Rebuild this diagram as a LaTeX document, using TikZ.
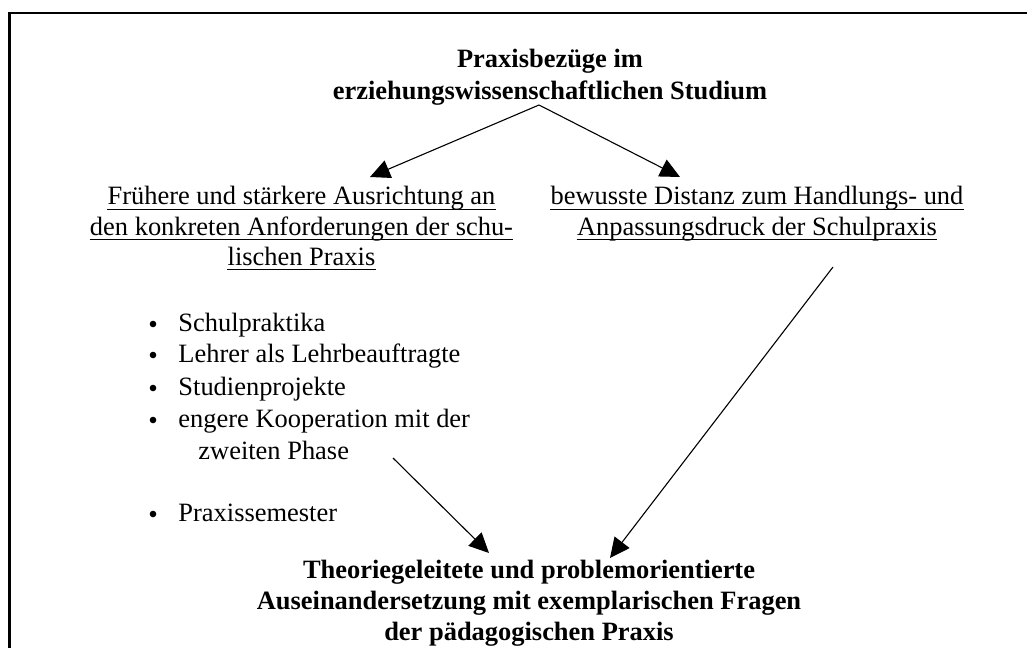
\documentclass[tikz,border=0pt]{standalone}
\usepackage{fontspec}
\setmainfont{Liberation Serif}
\usetikzlibrary{arrows.meta}
\begin{document}
\begin{tikzpicture}[x=0.4537pt,y=-0.4537pt,
  txt/.style={inner sep=0pt, anchor=base, font=\fontsize{12pt}{14pt}\selectfont},
  bld/.style={txt, font=\fontsize{12pt}{14pt}\selectfont\bfseries},
  lft/.style={txt, anchor=base west},
  dot/.style={circle, fill=black, inner sep=0pt, minimum size=3pt},
  arr/.style={-{Triangle[length=9pt,width=8.5pt]}, line width=0.5pt},
  ul/.style={line width=0.5pt}]
\useasboundingbox (0,0) rectangle (1027,648);
\draw[line width=0.95pt] (9.5,648) -- (9.5,13) -- (1027,13);
% title
\node[bld] (t1) at (550,68) {Praxisbezüge im};
\node[bld] (t2) at (550,100) {erziehungswissenschaftlichen Studium};
% left heading
\node[txt] (l1) at (301.5,205) {Frühere und stärkere Ausrichtung an};
\node[txt] (l2) at (301.5,235) {den konkreten Anforderungen der schu-};
\node[txt] (l3) at (301.5,265) {lischen Praxis};
% right heading
\node[txt] (r1) at (757,205) {bewusste Distanz zum Handlungs- und};
\node[txt] (r2) at (757,235) {Anpassungsdruck der Schulpraxis};
\foreach \n in {l1,l2,l3,r1,r2}
  \draw[ul] ([yshift=-2pt]\n.base west) -- ([yshift=-2pt]\n.base east);
% bullets
\node[dot] (d1) at (153,324) {};
\node[lft] (b1) at (178,331) {Schulpraktika};
\node[dot] (d2) at (153,355) {};
\node[lft] (b2) at (178,362) {Lehrer als Lehrbeauftragte};
\node[dot] (d3) at (153,388) {};
\node[lft] (b3) at (178,395) {Studienprojekte};
\node[dot] (d4) at (153,420) {};
\node[lft] (b4) at (178,427) {engere Kooperation mit der};
\node[lft] (b4b) at (198,459) {zweiten Phase};
\node[dot] (d5) at (153,514) {};
\node[lft] (b5) at (178,521) {Praxissemester};
% bottom
\node[bld] (f1) at (529,578) {Theoriegeleitete und problemorientierte};
\node[bld] (f2) at (529,609) {Auseinandersetzung mit exemplarischen Fragen};
\node[bld] (f3) at (529,640) {der pädagogischen Praxis};
% connectors
\coordinate (apex) at (539,105);
\coordinate (lt) at (370,177);
\coordinate (rt) at (680,177);
\coordinate (rs) at (833,267);
\coordinate (rtip) at (610,558);
\coordinate (ls) at (393,458);
\coordinate (ltip) at (489,553);
\draw[arr] (apex) -- (lt);
\draw[arr] (apex) -- (rt);
\draw[arr] (rs) -- (rtip);
\draw[arr] (ls) -- (ltip);
\end{tikzpicture}
\end{document}
